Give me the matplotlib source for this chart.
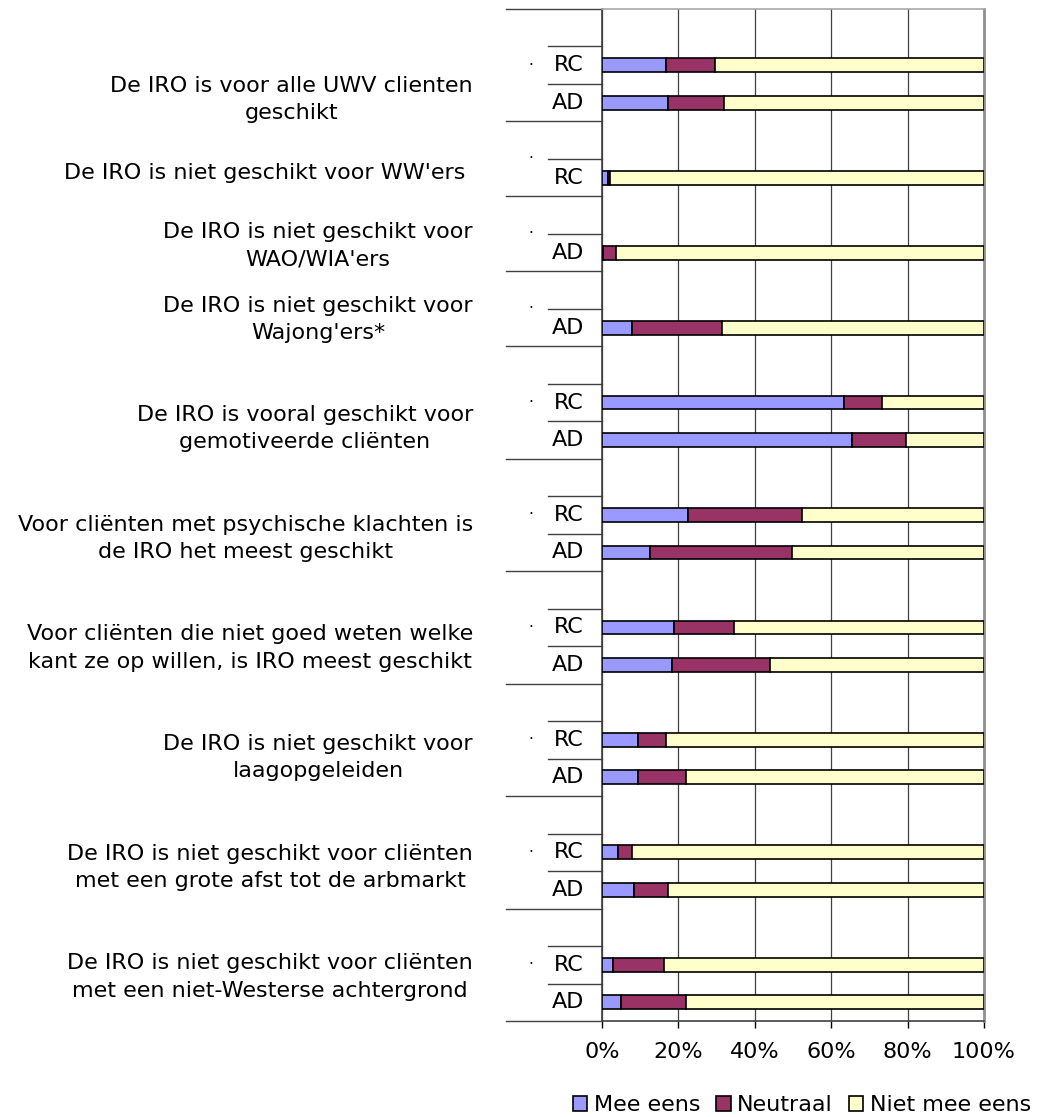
import numpy as np
import matplotlib
matplotlib.use('Agg')
from matplotlib import pyplot as plt
from matplotlib.patches import Patch

plt.rcParams['font.family'] = ['DejaVu Sans']

statements = [
    'De IRO is voor alle UWV clienten\ngeschikt',
    "De IRO is niet geschikt voor WW'ers ",
    "De IRO is niet geschikt voor\nWAO/WIA'ers",
    "De IRO is niet geschikt voor\nWajong'ers*",
    'De IRO is vooral geschikt voor\ngemotiveerde cliënten',
    'Voor cliënten met psychische klachten is\nde IRO het meest geschikt',
    'Voor cliënten die niet goed weten welke\nkant ze op willen, is IRO meest geschikt',
    'De IRO is niet geschikt voor\nlaagopgeleiden',
    'De IRO is niet geschikt voor cliënten\nmet een grote afst tot de arbmarkt',
    'De IRO is niet geschikt voor cliënten\nmet een niet-Westerse achtergrond',
]
# which respondent groups answered each statement
groups = [['RC', 'AD'], ['RC'], ['AD'], ['AD'], ['RC', 'AD'],
          ['RC', 'AD'], ['RC', 'AD'], ['RC', 'AD'], ['RC', 'AD'], ['RC', 'AD']]

# one value per bar, in the order of statements/groups above (percentages)
mee_eens = [16.7, 17.2, 1.5, 0.3, 7.8, 63.3, 65.4, 22.5, 12.6, 18.8, 18.3,
            9.4, 9.4, 4.1, 8.4, 3.0, 5.1]
neutraal = [13.0, 14.7, 0.7, 3.3, 23.5, 10.0, 14.2, 29.9, 37.2, 15.7, 25.6,
            7.3, 12.6, 3.7, 8.9, 13.2, 17.0]
niet_mee_eens = [70.3, 68.1, 97.8, 96.4, 68.7, 26.7, 20.4, 47.6, 50.2, 65.5, 56.1,
                 83.3, 78.0, 92.2, 82.7, 83.8, 77.9]

series = ['Mee eens', 'Neutraal', 'Niet mee eens']
colors = ['#9999FF', '#993366', '#FFFFCC']

FS = 16
W, H = 1038, 1117
fig = plt.figure(figsize=(W / 100, H / 100), dpi=100)
ax = fig.add_axes([602 / W, 1 - 1021 / H, 382 / W, 1012 / H])


def ax_x(px):
    return (px - 602) / 382


# row layout: every statement gets an empty row followed by its bars
bar_rows, bar_labels, group_bounds = [], [], []
row = 0
for g in groups:
    start = row
    row += 1
    for lab in g:
        bar_rows.append(row + 0.5)
        bar_labels.append(lab)
        row += 1
    group_bounds.append((start, row))
n_rows = row

bar_rows = np.array(bar_rows)
left = np.zeros(len(bar_rows))
for vals, col in zip([mee_eens, neutraal, niet_mee_eens], colors):
    ax.barh(bar_rows, vals, left=left, height=0.37, color=col,
            edgecolor='black', linewidth=1.2, zorder=3)
    left = left + np.array(vals)

ax.set_xlim(0, 100)
ax.set_ylim(n_rows, 0)
ax.set_xticks(np.arange(0, 101, 20))
ax.set_xticklabels([f'{v}%' for v in range(0, 101, 20)], fontsize=FS)
ax.tick_params(axis='x', direction='out', length=5, width=1, pad=10)
ax.set_yticks([])
ax.xaxis.grid(True, color='#404040', linewidth=0.9, zorder=0)
ax.set_axisbelow(True)

ax.spines['top'].set_color('#a8a8a8')
ax.spines['top'].set_linewidth(1.2)
ax.spines['right'].set_color('#909090')
ax.spines['right'].set_linewidth(2)
ax.spines['left'].set_color('#404040')
ax.spines['left'].set_linewidth(1.2)
ax.spines['bottom'].set_color('#404040')
ax.spines['bottom'].set_linewidth(1.2)

line_kw = dict(color='#404040', linewidth=1, clip_on=False,
               transform=ax.get_yaxis_transform())

# multi-level category axis drawn by hand
for (start, end), text in zip(group_bounds, statements):
    ax.plot([ax_x(506), 0], [start, start], **line_kw)
    for r in range(start + 1, end):
        ax.plot([ax_x(548), 0], [r, r], **line_kw)
    ax.text(ax_x(531), (start + end) / 2, '·', ha='center', va='center',
            fontsize=11, transform=ax.get_yaxis_transform())
    ax.text(ax_x(473), 0.975 * end - 0.5, text, ha='right', va='center',
            multialignment='center', fontsize=FS, linespacing=1.45,
            transform=ax.get_yaxis_transform())
ax.plot([ax_x(506), 0], [n_rows, n_rows], **line_kw)

for y, lab in zip(bar_rows, bar_labels):
    ax.text(ax_x(584), y, lab, ha='right', va='center', fontsize=FS,
            transform=ax.get_yaxis_transform())

handles = [Patch(facecolor=c, edgecolor='black', linewidth=1.2) for c in colors]
fig.legend(handles, series, loc='center', bbox_to_anchor=(802 / W, 1 - 1105 / H),
           ncol=3, frameon=False, fontsize=FS, handlelength=0.65, handleheight=0.65,
           handletextpad=0.3, columnspacing=0.7, borderpad=0)

fig.savefig('out.png', dpi=100)
